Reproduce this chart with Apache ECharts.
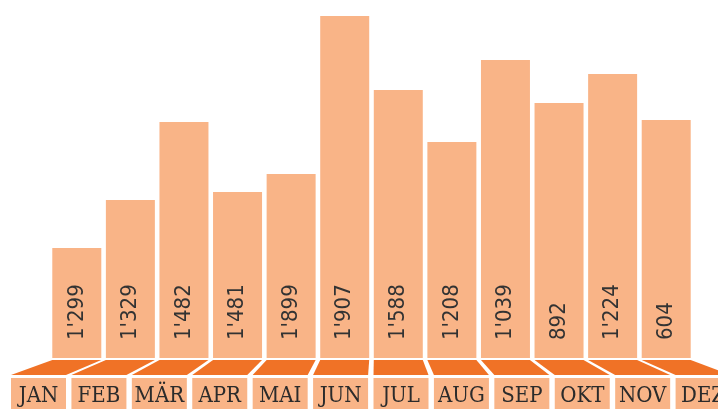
<!DOCTYPE html>
<html>
<head>
<meta charset="utf-8">
<script src="https://cdn.jsdelivr.net/npm/echarts@6/dist/echarts.min.js"></script>
<style>
    html, body { margin: 0; padding: 0; background: #fff; }
    #main { width: 718px; height: 409px; }
</style>
</head>
<body>
<div id="main"></div>
<script>
// monthly data
const months = ['JAN', 'FEB', 'MÄR', 'APR', 'MAI', 'JUN', 'JUL', 'AUG', 'SEP', 'OKT', 'NOV', 'DEZ'];
// bar heights (chart units)
const barHeights = [110, 158, 236, 166, 184, 342, 268, 216, 298, 255, 284, 238];
// numbers printed in the bars
const barLabels = ["1'299", "1'329", "1'482", "1'481", "1'899", "1'907", "1'588", "1'208", "1'039", "892", "1'224", "604"];

const light = '#F9B487';
const dark = '#F07226';

var myChart = echarts.init(document.getElementById('main'));

const renderFloor = (params, api) => {
    const i = params.dataIndex;
    // front edge: label box in grid 1
    const front = api.coord([i, 1]);
    const boxW = api.size([1, 0])[0] * 55 / 60.4;
    // back edge: bar foot in grid 0
    const back = myChart.convertToPixel({ gridIndex: 0 }, [i, 0]);
    const barW = 49;
    const topY = back[1] + 2;
    const botY = front[1] - 3;
    return {
        type: 'polygon',
        shape: {
            points: [
                [back[0] - barW / 2, topY],
                [back[0] + barW / 2, topY],
                [front[0] + boxW / 2, botY],
                [front[0] - boxW / 2, botY]
            ]
        },
        style: { fill: dark }
    };
};

const option = {
    animation: false,
    grid: [
        { left: 50, width: 643, top: 0, height: 358, outerBoundsMode: 'none' },
        { left: 8.3, width: 725, top: 378, height: 31, outerBoundsMode: 'none' }
    ],
    xAxis: [
        { type: 'category', gridIndex: 0, data: months, show: false },
        { type: 'category', gridIndex: 1, data: months, show: false }
    ],
    yAxis: [
        { type: 'value', gridIndex: 0, min: 0, max: 358, show: false },
        { type: 'value', gridIndex: 1, min: 0, max: 1, show: false }
    ],
    series: [
        {
            name: 'bars',
            type: 'bar',
            xAxisIndex: 0,
            yAxisIndex: 0,
            barWidth: 49,
            itemStyle: { color: light },
            label: {
                show: true,
                position: 'insideBottom',
                rotate: 90,
                align: 'left',
                verticalAlign: 'middle',
                distance: 18,
                fontFamily: '"Liberation Sans Narrow", "DejaVu Sans Condensed", Roboto, sans-serif',
                fontSize: 22,
                color: '#333',
                formatter: (p) => barLabels[p.dataIndex]
            },
            data: barHeights
        },
        {
            name: 'floor',
            type: 'custom',
            xAxisIndex: 1,
            yAxisIndex: 1,
            clip: false,
            renderItem: renderFloor,
            data: months.map(() => 1)
        },
        {
            name: 'months',
            type: 'bar',
            xAxisIndex: 1,
            yAxisIndex: 1,
            barWidth: 55,
            itemStyle: { color: light },
            label: {
                show: true,
                position: 'inside',
                offset: [0, 3],
                fontFamily: '"DejaVu Serif Condensed", "DejaVu Serif", serif',
                fontSize: 22,
                color: '#2b2b2b',
                formatter: (p) => p.name
            },
            data: months.map(() => 1)
        }
    ]
};
myChart.setOption(option, true);
</script>
</body>
</html>
